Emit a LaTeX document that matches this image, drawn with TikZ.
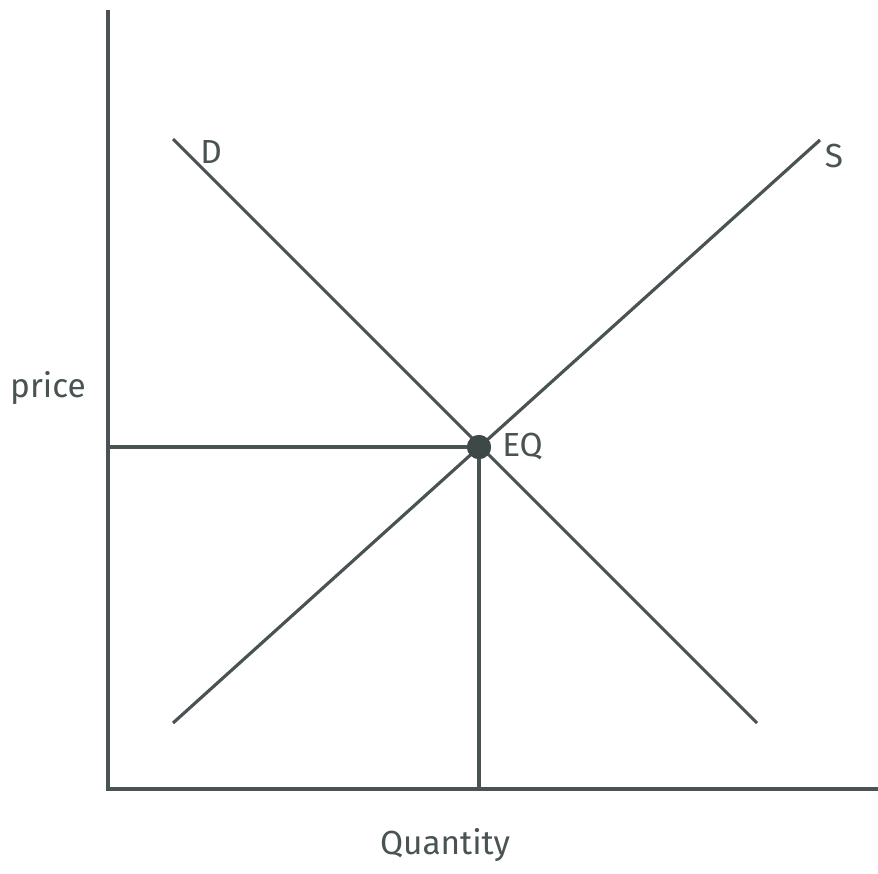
\documentclass[tikz,border=0pt]{standalone}
\usepackage{fontspec}
\setmainfont{Fira Sans}
\usepackage{tikz}
\usetikzlibrary{positioning}
\definecolor{ink}{HTML}{4A5353}
\definecolor{dot}{HTML}{3E4848}

\begin{document}
\begin{tikzpicture}[
  x=0.02cm, y=-0.02cm,
  line/.style={draw=ink, line width=1.8pt},
  lab/.style={text=ink, font=\fontsize{19}{22}\selectfont, inner sep=0pt},
  eq/.style={circle, fill=dot, minimum size=0.48cm, inner sep=0pt}
]
  \useasboundingbox (0,0) rectangle (878,873);

  % axes
  \coordinate (top)    at (108,10);
  \coordinate (origin) at (108,789);
  \coordinate (right)  at (878,789);
  \draw[line] (top) -- (origin) -- (right);

  % demand and supply
  \coordinate (D1) at (173,139);
  \coordinate (D2) at (757,723);
  \coordinate (S1) at (173,723);
  \coordinate (S2) at (820,140);
  \draw[line] (D1) -- (D2);
  \draw[line] (S1) -- (S2);

  % equilibrium
  \node[eq] (EQ) at (479,447) {};
  \coordinate (pEQ) at (108,447);
  \coordinate (qEQ) at (479,789);
  \draw[line] (pEQ) -- (EQ.center);
  \draw[line] (EQ.center) -- (qEQ);
  \node[eq] at (EQ) {};

  \node[lab] (Dl) at (211,152) {D};
  \node[lab] (Sl) at (834,156) {S};
  \node[lab] (EQl) [right=6pt of EQ] {EQ};
  \node[lab] (P) at (48,388) {price};
  \node[lab] (Q) at (445,845) {Quantity};
\end{tikzpicture}
\end{document}
